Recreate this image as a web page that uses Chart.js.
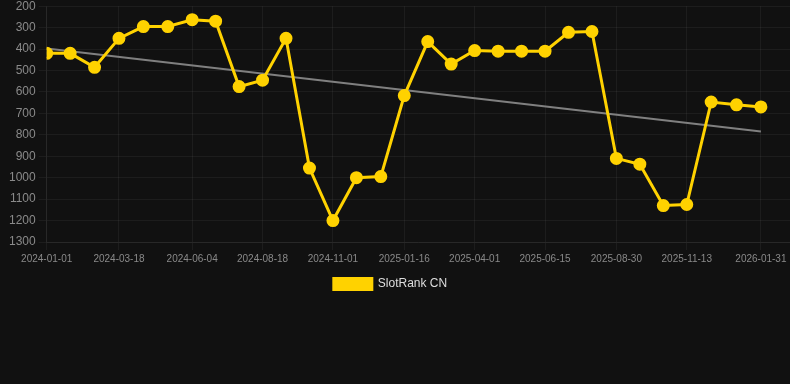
<!DOCTYPE html>
<html>
<head>
<meta charset="utf-8">
<script src="https://cdn.jsdelivr.net/npm/chart.js@4.4.1/dist/chart.umd.min.js"></script>
<style>
  html, body { margin: 0; padding: 0; background: #111111; overflow: hidden; }
  #wrap { width: 799px; height: 304px; position: relative; margin-top: -4px; }
</style>
</head>
<body>
<div id="wrap"><canvas id="rankChart"></canvas></div>
<script>
'use strict';

// data

var pointDates = [
  '2024-01-01', '2024-01-26', '2024-02-21', '2024-03-18', '2024-04-13', '2024-05-09',
  '2024-06-04', '2024-06-29', '2024-07-24', '2024-08-18', '2024-09-12', '2024-10-07',
  '2024-11-01', '2024-11-26', '2024-12-22', '2025-01-16', '2025-02-10', '2025-03-07',
  '2025-04-01', '2025-04-26', '2025-05-21', '2025-06-15', '2025-07-10', '2025-08-04',
  '2025-08-30', '2025-09-24', '2025-10-19', '2025-11-13', '2025-12-09', '2026-01-05',
  '2026-01-31'
];
var rankValues = [
  420, 420, 485, 350, 295, 295, 263, 270, 575, 545, 350, 955,
  1200, 1000, 995, 617, 365, 470, 407, 410, 410, 410, 322, 318,
  910, 937, 1130, 1125, 647, 660, 670
];
var trendDates = ['2024-01-01', '2026-01-31'];
var trendValues = [397, 784];
var tickDates = [
  '2024-01-01', '2024-03-18', '2024-06-04', '2024-08-18', '2024-11-01', '2025-01-16',
  '2025-04-01', '2025-06-15', '2025-08-30', '2025-11-13', '2026-01-31'
];
var axisStart = '2024-01-01';
var axisEnd = '2026-03-03';
var seriesName = 'SlotRank CN';

function toTime(d) {
  return Date.parse(d + 'T00:00:00Z');
}

function toLabel(v) {
  return new Date(v).toISOString().slice(0, 10);
}

function pairUp(dates, values) {
  var out = [];
  for (var i = 0; i < dates.length; i++) {
    out.push({ x: toTime(dates[i]), y: values[i] });
  }
  return out;
}

var gridColor = 'rgba(255,255,255,0.05)';
var tickColor = '#8a8a8a';

// nudge the legend left so it sits where the original one does
var legendShift = {
  id: 'legendShift',
  afterLayout: function (c) {
    c.legend.left -= 12;
    c.legend.right -= 12;
  }
};

var ctx = document.getElementById('rankChart').getContext('2d');
var chart = new Chart(ctx, {
  type: 'line',
  data: {
    datasets: [{
      label: seriesName,
      data: pairUp(pointDates, rankValues),
      borderColor: '#ffd200',
      backgroundColor: '#ffd200',
      borderWidth: 3,
      pointRadius: 5,
      pointHoverRadius: 6,
      tension: 0
    }, {
      label: 'trend',
      data: pairUp(trendDates, trendValues),
      borderColor: '#808080',
      borderWidth: 2,
      pointRadius: 0,
      tension: 0
    }]
  },
  options: {
    responsive: true,
    maintainAspectRatio: false,
    animation: false,
    layout: { padding: { left: 6, right: 0, top: 0, bottom: 0 } },
    scales: {
      x: {
        type: 'linear',
        min: toTime(axisStart),
        max: toTime(axisEnd),
        afterBuildTicks: function (axis) {
          axis.ticks = tickDates.map(function (d) { return { value: toTime(d) }; });
        },
        grid: { color: gridColor },
        border: { color: gridColor },
        ticks: {
          color: tickColor,
          font: { family: 'Liberation Sans, Arial, sans-serif', size: 10 },
          maxRotation: 0,
          autoSkip: false,
          callback: function (v) { return toLabel(v); }
        }
      },
      y: {
        reverse: true,
        min: 200,
        max: 1300,
        grid: { color: gridColor },
        border: { color: gridColor },
        ticks: {
          stepSize: 100,
          color: tickColor,
          font: { family: 'Liberation Sans, Arial, sans-serif', size: 12 },
          callback: function (v) { return String(v); }
        }
      }
    },
    plugins: {
      tooltip: { enabled: false },
      legend: {
        position: 'bottom',
        labels: {
          color: '#dddddd',
          boxWidth: 38,
          boxHeight: 11,
          font: { family: 'Liberation Sans, Arial, sans-serif', size: 12 },
          filter: function (item) { return item.text === seriesName; }
        }
      }
    }
  },
  plugins: [legendShift]
});
</script>
</body>
</html>
